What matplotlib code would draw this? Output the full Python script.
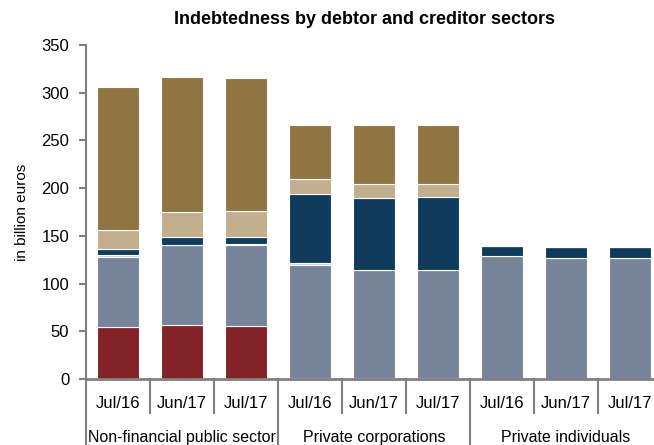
import numpy as np
import matplotlib
matplotlib.use("Agg")
import matplotlib.pyplot as plt

plt.rcParams['font.family'] = ['Liberation Sans', 'DejaVu Sans']

### Data
groups = ['Non-financial public sector', 'Private corporations', 'Private individuals']
periods = ['Jul/16', 'Jun/17', 'Jul/17']

s_red = [54.5, 57, 56, 1.5, 1.5, 1.5, 0, 0, 0]
s_grey = [73.5, 83, 84, 118, 112.5, 112.5, 128.5, 126.5, 126.5]
s_light = [2, 0.8, 1, 2, 0.5, 0.5, 0, 0, 0]
s_navy = [6.5, 7.7, 8, 72.5, 75.5, 76, 11, 12, 12]
s_tan = [19.5, 26.5, 27, 15.5, 14.5, 13.5, 0, 0, 0]
s_brown = [150, 141.5, 139.5, 56.5, 61.5, 62, 0, 0, 0]

series = [s_red, s_grey, s_light, s_navy, s_tan, s_brown]
colours = ['#832227', '#768399', '#c9d0da', '#0e3c5a', '#c2ae8c', '#8e7542']

### Figure
fig = plt.figure(figsize=(6.54, 4.45), dpi=100)
ax = fig.add_axes([86/654, 1-379/445, 576/654, 334/445])

x = np.arange(len(s_red))
bottom = np.zeros(len(x))
for vals, c in zip(series, colours):
    ax.bar(x, vals, 0.66, bottom=bottom, color=c, edgecolor='white', linewidth=0.8)
    bottom += np.array(vals)

ax.set_xlim(-0.5, len(x) - 0.5)
ax.set_ylim(0, 350)
ax.set_yticks(np.arange(0, 351, 50))
ax.tick_params(axis='y', labelsize=12, length=5, width=1.5, color='#808080', pad=7)
ax.set_xticks([])
for s in ['top', 'right']:
    ax.spines[s].set_visible(False)
for s in ['left', 'bottom']:
    ax.spines[s].set_color('#808080')
ax.spines['left'].set_linewidth(1.5)
ax.spines['bottom'].set_linewidth(2)

ax.set_ylabel('in billion euros', fontsize=11, labelpad=9)

# category labels and separators
trans = ax.get_xaxis_transform()
for i in range(len(x)):
    ax.text(i, -0.072, periods[i % 3], transform=trans, ha='center', va='center', fontsize=12)
for i in range(len(x) + 1):
    long_ = (i % 3 == 0)
    ax.plot([i - 0.5, i - 0.5], [0, -0.2 if long_ else -0.102], transform=trans,
            color='#808080', lw=1.5, clip_on=False)
for g, name in enumerate(groups):
    ax.text(3 * g + 1, -0.176, name, transform=trans, ha='center', va='center', fontsize=11.5)

fig.text(364/654, 1-20/445, 'Indebtedness by debtor and creditor sectors',
         ha='center', va='center', fontsize=13, fontweight='bold')

fig.savefig('out.png', dpi=100)
